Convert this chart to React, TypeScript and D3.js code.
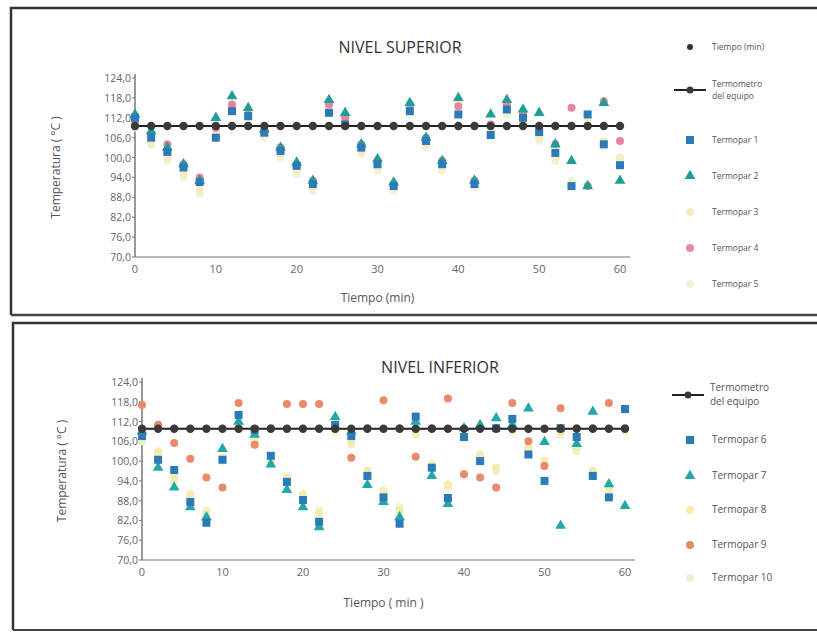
import React from 'react';
import * as d3 from 'd3';

// tiempo (min), cada 2 minutos
const minutes = [0, 2, 4, 6, 8, 10, 12, 14, 16, 18, 20, 22, 24, 26, 28, 30, 32, 34, 36, 38, 40, 42, 44, 46, 48, 50, 52, 54, 56, 58, 60];
const yTicks = [70, 76, 82, 88, 94, 100, 106, 112, 118, 124];
const xTicks = [0, 10, 20, 30, 40, 50, 60];

// ---- nivel superior ----
const termometroSup = [109.5, 109.5, 109.5, 109.5, 109.5, 109.5, 109.5, 109.5, 109.5, 109.5, 109.5, 109.5, 109.5, 109.5, 109.5, 109.5, 109.5, 109.5, 109.5, 109.5, 109.5, 109.5, 109.5, 109.5, 109.5, 109.5, 109.5, 109.5, 109.5, 109.5, 109.5];
const termopar1 = [112, 106, 101.7, 97, 92.6, 106, 114, 112.5, 107.5, 102, 97.5, 92, 113.5, 110, 103, 98, 91.4, 114, 105, 98, 113, 92, 106.8, 114.5, 112, 107.7, 101.4, 91.4, 113, 104, 97.7];
const termopar2 = [113, 108, 103, 98, 93, 112, 118.5, 115, 108.5, 103, 98.5, 93, 117.4, 113.5, 104, 99.5, 92.5, 116.5, 106, 99, 118, 93, 113, 117.4, 114.5, 113.5, 104, 99, 91.4, 116.5, 93];
const termopar3 = [110, 104, 100, 95, 90, 108, 116, 113, 107, 101, 96, 91, 115, 111, 102, 97, 92, 115, 104, 97, 116, 93, 108, 115, 111, 106, 100, 92, 112, 105, 100];
const termopar4 = [111, 107, 104, 98, 94, 109, 116, 113, 108, 103, 98, 93, 116, 112, 104, 99, 92, 116, 106, 99, 115.5, 93, 110, 116, 113, 109, 104, 115, 91.4, 117, 105];
const termopar5 = [109, 105, 99, 94, 89, 107, 115, 111, 106, 100, 95, 90, 114, 110, 101, 96, 90, 113, 103, 96, 114, 91, 107, 113, 110, 105, 99, 93, 110, 103, 99];

// ---- nivel inferior ----
const termometroInf = [109.8, 109.8, 109.8, 109.8, 109.8, 109.8, 109.8, 109.8, 109.8, 109.8, 109.8, 109.8, 109.8, 109.8, 109.8, 109.8, 109.8, 109.8, 109.8, 109.8, 109.8, 109.8, 109.8, 109.8, 109.8, 109.8, 109.8, 109.8, 109.8, 109.8, 109.8];
const termopar6 = [107.6, 100.4, 97.3, 87.6, 81.3, 100.4, 114, 109.5, 101.6, 93.7, 88.2, 81.6, 111, 107.6, 95.5, 89, 81, 113.5, 98, 88.8, 107.3, 100, 110, 112.8, 102, 94, 110, 107.3, 95.5, 89, 115.8];
const termopar7 = [109, 98, 92, 86, 83, 103.7, 112, 108, 99, 91.3, 86, 80, 113.4, 109, 92.8, 87.6, 83, 112, 95.5, 87, 110, 111, 113, 111, 116, 105.8, 80.4, 105.2, 115, 93, 86.4];
const termopar8 = [108, 103, 95, 90, 84, 101, 110, 106, 100, 95, 90, 84, 110, 106, 97, 91, 85, 109, 99, 93, 108, 102, 98, 110, 104, 100, 109, 104, 97, 92, 110];
const termopar9 = [117, 111, 105.5, 100.7, 95, 92, 117.6, 105, 110, 117.3, 117.3, 117.3, 110, 101, 110, 118.5, 110, 101.3, 110, 119, 96, 95, 92, 117.6, 106, 98.5, 116, 110, 110, 117.6, 110];
const termopar10 = [106, 102, 94, 89, 85, 100, 111, 105, 99, 94, 89, 85, 109, 105, 96, 90, 86, 108, 98, 92, 107, 101, 97, 109, 103, 99, 108, 103, 96, 91, 109];

type Serie = { name: string; values: number[]; shape: 'square' | 'triangle' | 'circle'; color: string };

const serSup: Serie[] = [
  { name: 'Termopar 5', values: termopar5, shape: 'circle', color: '#f2f2dc' },
  { name: 'Termopar 3', values: termopar3, shape: 'circle', color: '#f7ecc0' },
  { name: 'Termopar 4', values: termopar4, shape: 'circle', color: '#e8849e' },
  { name: 'Termopar 2', values: termopar2, shape: 'triangle', color: '#1f9e95' },
  { name: 'Termopar 1', values: termopar1, shape: 'square', color: '#2b7bb9' },
];
const serInf: Serie[] = [
  { name: 'Termopar 10', values: termopar10, shape: 'circle', color: '#eef2c4' },
  { name: 'Termopar 8', values: termopar8, shape: 'circle', color: '#f6eab0' },
  { name: 'Termopar 9', values: termopar9, shape: 'circle', color: '#e98a6a' },
  { name: 'Termopar 7', values: termopar7, shape: 'triangle', color: '#22a8a8' },
  { name: 'Termopar 6', values: termopar6, shape: 'square', color: '#2b7bb9' },
];

const fmt = (v: number) => d3.format('.1f')(v).replace('.', ',');

function Marker({ shape, color, x, y }: { shape: string; color: string; x: number; y: number }) {
  if (shape === 'square') return <rect x={x - 4} y={y - 4} width={8} height={8} fill={color} />;
  if (shape === 'triangle') {
    const p = d3.symbol(d3.symbolTriangle, 50)();
    return <path d={p || ''} transform={`translate(${x},${y})`} fill={color} />;
  }
  return <circle cx={x} cy={y} r={4} fill={color} />;
}

function Panel({ title, titleX, titleY, xr, yr, series, termo, yLabel, xLabel, ylabX, xlabY, legend, legendFont }: any) {
  const x = d3.scaleLinear().domain([0, 60]).range(xr);
  const y = d3.scaleLinear().domain([70, 124]).range(yr);
  const lineGen = d3.line<number>().x((_, i) => x(minutes[i])).y(v => y(v));
  return (
    <g fontFamily="'Open Sans', sans-serif">
      <text x={titleX} y={titleY} textAnchor="middle" fontSize={16} fill="#333">{title}</text>
      {/* ejes */}
      <line x1={xr[0]} x2={xr[0]} y1={yr[0]} y2={yr[1] - 4} stroke="#555" strokeWidth={1.2} />
      <line x1={xr[0]} x2={xr[1] + 10} y1={yr[0]} y2={yr[0]} stroke="#777" strokeWidth={1.2} />
      {yTicks.map(t => (
        <g key={t}>
          <line x1={xr[0] - 3} x2={xr[0]} y1={y(t)} y2={y(t)} stroke="#777" />
          <text x={xr[0] - 4} y={y(t) + 4} textAnchor="end" fontSize={10.5} fill="#666">{fmt(t)}</text>
        </g>
      ))}
      {xTicks.map(t => (
        <text key={t} x={x(t)} y={yr[0] + 16} textAnchor="middle" fontSize={11} fill="#666">{t}</text>
      ))}
      <text transform={`translate(${ylabX},${(yr[0] + yr[1]) / 2}) rotate(-90)`} textAnchor="middle" fontSize={12} fill="#555">{yLabel}</text>
      <text x={(xr[0] + xr[1]) / 2} y={xlabY} textAnchor="middle" fontSize={12} fill="#555">{xLabel}</text>
      {/* puntos */}
      {series.map((s: Serie) => (
        <g key={s.name}>
          {s.values.map((v, i) => <Marker key={i} shape={s.shape} color={s.color} x={x(minutes[i])} y={y(v)} />)}
        </g>
      ))}
      <path d={lineGen(termo) || ''} fill="none" stroke="#222" strokeWidth={2} />
      {termo.map((v: number, i: number) => <circle key={i} cx={x(minutes[i])} cy={y(v)} r={4.2} fill="#3a3a3a" />)}
      {/* leyenda */}
      {legend.map((l: any) => (
        <g key={l.label}>
          {l.kind === 'line' ? (
            <g>
              <line x1={l.x - 16} x2={l.x + 16} y1={l.y} y2={l.y} stroke="#222" strokeWidth={2} />
              <circle cx={l.x} cy={l.y} r={3.5} fill="#3a3a3a" />
            </g>
          ) : l.kind === 'dot' ? (
            <circle cx={l.x} cy={l.y} r={3} fill="#333" />
          ) : (
            <Marker shape={l.shape} color={l.color} x={l.x} y={l.y} />
          )}
          {l.label.split('\n').map((s: string, j: number, arr: string[]) => (
            <text key={j} x={l.x + 22} y={l.y + 3 + (j - (arr.length - 1) / 2) * (legendFont + 4)} fontSize={legendFont} fill="#555">{s}</text>
          ))}
        </g>
      ))}
    </g>
  );
}

export default function App() {
  const legSup = [
    { label: 'Tiempo (min)', kind: 'dot', x: 690, y: 47 },
    { label: 'Termometro\ndel equipo', kind: 'line', x: 690, y: 90 },
    { label: 'Termopar 1', shape: 'square', color: '#2b7bb9', x: 690, y: 140 },
    { label: 'Termopar 2', shape: 'triangle', color: '#1f9e95', x: 690, y: 176 },
    { label: 'Termopar 3', shape: 'circle', color: '#f7ecc0', x: 690, y: 212 },
    { label: 'Termopar 4', shape: 'circle', color: '#e8849e', x: 690, y: 248 },
    { label: 'Termopar 5', shape: 'circle', color: '#f2f2dc', x: 690, y: 284 },
  ];
  const legInf = [
    { label: 'Termometro\ndel equipo', kind: 'line', x: 688, y: 395 },
    { label: 'Termopar 6', shape: 'square', color: '#2b7bb9', x: 690, y: 440 },
    { label: 'Termopar 7', shape: 'triangle', color: '#22a8a8', x: 690, y: 476 },
    { label: 'Termopar 8', shape: 'circle', color: '#f6eab0', x: 690, y: 510 },
    { label: 'Termopar 9', shape: 'circle', color: '#e98a6a', x: 690, y: 545 },
    { label: 'Termopar 10', shape: 'circle', color: '#eef2c4', x: 690, y: 578 },
  ];
  return (
    <svg width={817} height={633} style={{ position: 'absolute', left: 0, top: 0, background: '#fff' }}>
      {/* marcos */}
      <path d="M11,315 L11,8 L817,8" fill="none" stroke="#333" strokeWidth={2.5} />
      <line x1={11} x2={817} y1={315} y2={315} stroke="#444" strokeWidth={2.5} />
      <path d="M13,630 L13,323 L817,323" fill="none" stroke="#333" strokeWidth={2.5} />
      <line x1={13} x2={817} y1={630} y2={630} stroke="#444" strokeWidth={2} />
      <Panel title="NIVEL SUPERIOR" titleX={400} titleY={53} xr={[135, 620]} yr={[257, 78]}
        series={serSup} termo={termometroSup} yLabel="Temperatura ( °C )" xLabel="Tiempo (min)"
        ylabX={60} xlabY={302} legend={legSup} legendFont={8.5} />
      <Panel title="NIVEL INFERIOR" titleX={440} titleY={373} xr={[142, 625]} yr={[560, 382]}
        series={serInf} termo={termometroInf} yLabel="Temperatura ( °C )" xLabel="Tiempo ( min )"
        ylabX={66} xlabY={607} legend={legInf} legendFont={10} />
    </svg>
  );
}
